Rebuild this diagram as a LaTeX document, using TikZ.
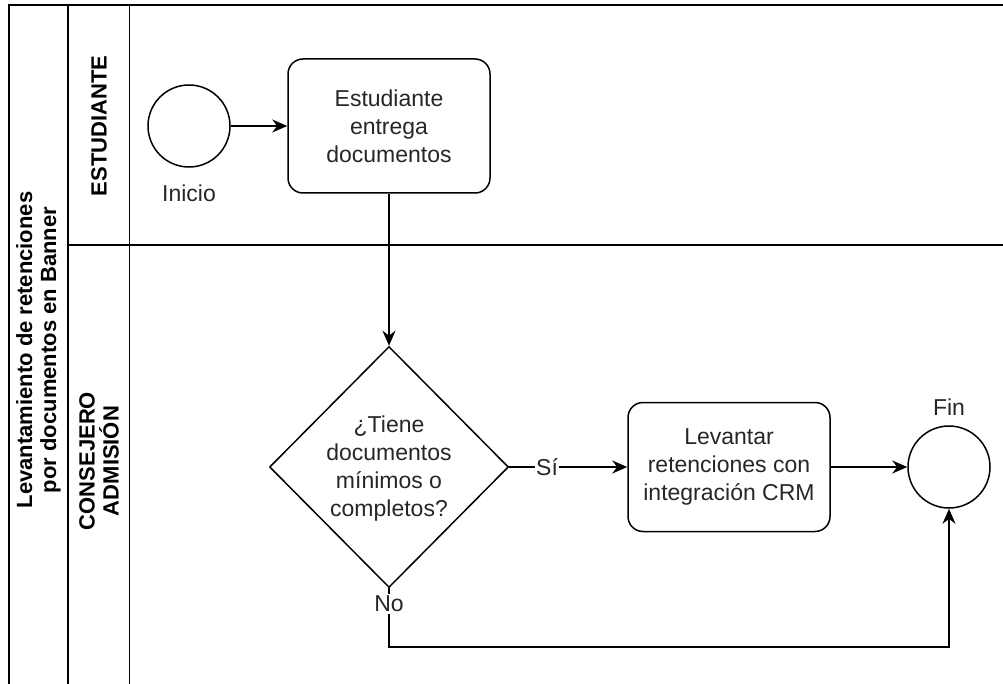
\documentclass[tikz,border=0pt]{standalone}
\usepackage{fontspec}
\setmainfont{Liberation Sans}
\usetikzlibrary{shapes.geometric,arrows.meta}

\tikzset{
  lane/.style={line width=1.5pt},
  title/.style={rotate=90, align=center, font=\fontsize{22}{24}\selectfont\bfseries},
  task/.style={draw, rounded corners=15pt, line width=1.5pt, minimum width=202pt, minimum height=134pt, align=center, text=black!85, font=\fontsize{23}{28}\selectfont},
  event/.style={draw, circle, line width=1.5pt, minimum size=82pt},
  decision/.style={draw, diamond, line width=1.5pt, minimum width=239pt, minimum height=241pt, inner sep=0pt},
  lbl/.style={text=black!85, font=\fontsize{23}{28}\selectfont},
  flow/.style={draw, line width=1.5pt, -{Stealth[length=15pt,width=13pt]}},
}

\begin{document}
\begin{tikzpicture}[x=10pt,y=-10pt]
\useasboundingbox (0,0) rectangle (100.3,68.4);
% pool and lanes
\path[draw,lane] (100.3,0.5) -- (0.9,0.5) -- (0.9,68.4);
\path[draw,lane] (6.8,0.5) -- (6.8,68.4);
\path[draw,lane] (12.95,0.5) -- (12.95,68.4);
\path[draw,lane] (6.8,24.5) -- (100.3,24.5);
\node[title] (pool) at (3.85,35) {Levantamiento de retenciones\\por documentos en Banner};
\node[title] (estudiante) at (9.9,12.6) {ESTUDIANTE};
\node[title] (consejero) at (9.9,46.1) {CONSEJERO\\ADMISIÓN};
% flow nodes
\node[event] (inicio) at (18.9,12.6) {};
\node[lbl] (inicioLbl) at (18.9,19.3) {Inicio};
\node[task] (entrega) at (38.9,12.6) {Estudiante\\entrega\\documentos};
\node[decision] (tiene) at (38.9,46.7) {};
\node[lbl, align=center] (tieneTxt) at (38.9,46.9) {¿Tiene\\documentos\\mínimos o\\completos?};
\node[task, minimum height=129pt] (levantar) at (72.9,46.7) {Levantar\\retenciones con\\integración CRM};
\node[event] (fin) at (94.9,46.7) {};
\node[lbl] (finLbl) at (94.9,40.7) {Fin};
\coordinate (vuelta) at (38.9,64.7);
% connectors
\path[flow] (inicio) -- (entrega);
\path[flow] (entrega) -- (tiene);
\path[flow] (tiene) -- node[lbl, fill=white, pos=0.32, inner sep=1pt] (si) {Sí} (levantar);
\path[flow] (levantar) -- (fin);
\path[flow] (tiene) -- node[lbl, fill=white, pos=0.27, inner sep=2pt] (no) {No} (vuelta) -| (fin);
\end{tikzpicture}
\end{document}
